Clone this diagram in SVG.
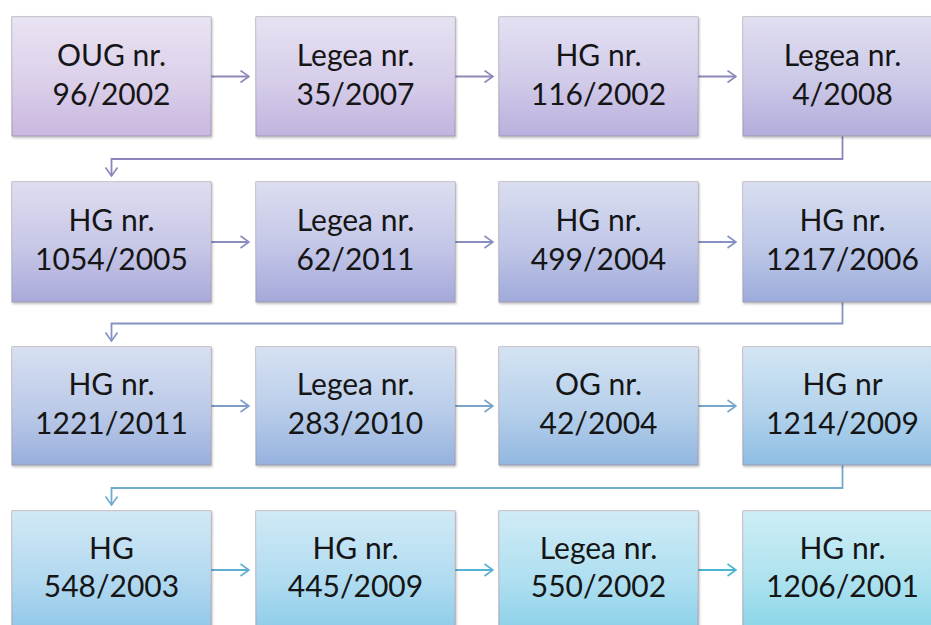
<svg xmlns="http://www.w3.org/2000/svg" width="931" height="625" viewBox="0 0 931 625">
  <defs>
    <!-- light sheen laid over each box's base colour -->
    <linearGradient id="sheen" x1="0" y1="0" x2="0" y2="1">
      <stop offset="0" stop-color="#ffffff" stop-opacity="0.62"/>
      <stop offset="0.55" stop-color="#ffffff" stop-opacity="0.35"/>
      <stop offset="1" stop-color="#ffffff" stop-opacity="0.02"/>
    </linearGradient>
    <filter id="shadow" x="-5%" y="-5%" width="110%" height="115%">
      <feDropShadow dx="1" dy="1.5" stdDeviation="1.2" flood-color="#000" flood-opacity="0.25"/>
    </filter>
    <marker id="chev" viewBox="0 0 10 14" refX="9.5" refY="7" markerWidth="10" markerHeight="14" markerUnits="userSpaceOnUse" orient="auto">
      <path d="M1,1 L9.5,7 L1,13" fill="none" stroke="context-stroke" stroke-width="1.6"/>
    </marker>
  </defs>
  <style>
    .box { stroke: #9a98aa; stroke-width: 1; filter: url(#shadow); }
    .sheen { fill: url(#sheen); }
    .lbl { font-family: Lato, "Noto Sans", "Liberation Sans", sans-serif; font-size: 30px; fill: #151515; text-anchor: middle; }
    .cn { fill: none; stroke-width: 1.8; marker-end: url(#chev); }
  </style>
  <rect width="931" height="625" fill="#ffffff"/>

  <!-- connectors -->
  <g id="connectors">
    <path class="cn" stroke="#9088b6" d="M211,76.5 H249"/>
    <path class="cn" stroke="#8e88b8" d="M455,76.5 H493"/>
    <path class="cn" stroke="#8c88ba" d="M698,76.5 H736"/>
    <path class="cn" stroke="#8a86bc" d="M842.5,136 V159 H111.5 V176"/>

    <path class="cn" stroke="#8a8cc0" d="M211,242 H249"/>
    <path class="cn" stroke="#888ec2" d="M455,242 H493"/>
    <path class="cn" stroke="#8690c4" d="M698,242 H736"/>
    <path class="cn" stroke="#8592c4" d="M842.5,302 V323.5 H111.5 V341"/>

    <path class="cn" stroke="#7e9cc8" d="M211,406 H249"/>
    <path class="cn" stroke="#7aa2ca" d="M455,406 H493"/>
    <path class="cn" stroke="#76a6cc" d="M698,406 H736"/>
    <path class="cn" stroke="#70aacd" d="M842.5,465 V488 H111.5 V505"/>

    <path class="cn" stroke="#5eafd2" d="M211,570 H249"/>
    <path class="cn" stroke="#55b2d2" d="M455,570 H493"/>
    <path class="cn" stroke="#4ab5d0" d="M698,570 H736"/>
  </g>

  <!-- row 1 -->
  <g id="n1">
    <rect class="box" x="12" y="17" width="199" height="119" fill="#c8b6df"/>
    <rect class="sheen" x="12" y="17" width="199" height="119"/>
    <text class="lbl" x="111.5" y="66">OUG nr.</text>
    <text class="lbl" x="111.5" y="105">96/2002</text>
  </g>
  <g id="n2">
    <rect class="box" x="256" y="17" width="199" height="119" fill="#c0b2de"/>
    <rect class="sheen" x="256" y="17" width="199" height="119"/>
    <text class="lbl" x="355.5" y="66">Legea nr.</text>
    <text class="lbl" x="355.5" y="105">35/2007</text>
  </g>
  <g id="n3">
    <rect class="box" x="499" y="17" width="199" height="119" fill="#b8aedd"/>
    <rect class="sheen" x="499" y="17" width="199" height="119"/>
    <text class="lbl" x="598.5" y="66">HG nr.</text>
    <text class="lbl" x="598.5" y="105">116/2002</text>
  </g>
  <g id="n4">
    <rect class="box" x="743" y="17" width="199" height="119" fill="#b0abdb"/>
    <rect class="sheen" x="743" y="17" width="199" height="119"/>
    <text class="lbl" x="842.5" y="66">Legea nr.</text>
    <text class="lbl" x="842.5" y="105">4/2008</text>
  </g>

  <!-- row 2 -->
  <g id="n5">
    <rect class="box" x="12" y="182" width="199" height="120" fill="#a8a8da"/>
    <rect class="sheen" x="12" y="182" width="199" height="120"/>
    <text class="lbl" x="111.5" y="231">HG nr.</text>
    <text class="lbl" x="111.5" y="270">1054/2005</text>
  </g>
  <g id="n6">
    <rect class="box" x="256" y="182" width="199" height="120" fill="#a3a7da"/>
    <rect class="sheen" x="256" y="182" width="199" height="120"/>
    <text class="lbl" x="355.5" y="231">Legea nr.</text>
    <text class="lbl" x="355.5" y="270">62/2011</text>
  </g>
  <g id="n7">
    <rect class="box" x="499" y="182" width="199" height="120" fill="#9ea8da"/>
    <rect class="sheen" x="499" y="182" width="199" height="120"/>
    <text class="lbl" x="598.5" y="231">HG nr.</text>
    <text class="lbl" x="598.5" y="270">499/2004</text>
  </g>
  <g id="n8">
    <rect class="box" x="743" y="182" width="199" height="120" fill="#9aaadb"/>
    <rect class="sheen" x="743" y="182" width="199" height="120"/>
    <text class="lbl" x="842.5" y="231">HG nr.</text>
    <text class="lbl" x="842.5" y="270">1217/2006</text>
  </g>

  <!-- row 3 -->
  <g id="n9">
    <rect class="box" x="12" y="347" width="199" height="118" fill="#97addc"/>
    <rect class="sheen" x="12" y="347" width="199" height="118"/>
    <text class="lbl" x="111.5" y="395">HG nr.</text>
    <text class="lbl" x="111.5" y="434">1221/2011</text>
  </g>
  <g id="n10">
    <rect class="box" x="256" y="347" width="199" height="118" fill="#93b1de"/>
    <rect class="sheen" x="256" y="347" width="199" height="118"/>
    <text class="lbl" x="355.5" y="395">Legea nr.</text>
    <text class="lbl" x="355.5" y="434">283/2010</text>
  </g>
  <g id="n11">
    <rect class="box" x="499" y="347" width="199" height="118" fill="#8fb6e0"/>
    <rect class="sheen" x="499" y="347" width="199" height="118"/>
    <text class="lbl" x="598.5" y="395">OG nr.</text>
    <text class="lbl" x="598.5" y="434">42/2004</text>
  </g>
  <g id="n12">
    <rect class="box" x="743" y="347" width="199" height="118" fill="#8bbce3"/>
    <rect class="sheen" x="743" y="347" width="199" height="118"/>
    <text class="lbl" x="842.5" y="395">HG nr</text>
    <text class="lbl" x="842.5" y="434">1214/2009</text>
  </g>

  <!-- row 4 -->
  <g id="n13">
    <rect class="box" x="12" y="511" width="199" height="130" fill="#87c3e7"/>
    <rect class="sheen" x="12" y="511" width="199" height="130"/>
    <text class="lbl" x="111.5" y="559">HG</text>
    <text class="lbl" x="111.5" y="597">548/2003</text>
  </g>
  <g id="n14">
    <rect class="box" x="256" y="511" width="199" height="130" fill="#84c8e8"/>
    <rect class="sheen" x="256" y="511" width="199" height="130"/>
    <text class="lbl" x="355.5" y="559">HG nr.</text>
    <text class="lbl" x="355.5" y="597">445/2009</text>
  </g>
  <g id="n15">
    <rect class="box" x="499" y="511" width="199" height="130" fill="#82cde8"/>
    <rect class="sheen" x="499" y="511" width="199" height="130"/>
    <text class="lbl" x="598.5" y="559">Legea nr.</text>
    <text class="lbl" x="598.5" y="597">550/2002</text>
  </g>
  <g id="n16">
    <rect class="box" x="743" y="511" width="199" height="130" fill="#7fd2e6"/>
    <rect class="sheen" x="743" y="511" width="199" height="130"/>
    <text class="lbl" x="842.5" y="559">HG nr.</text>
    <text class="lbl" x="842.5" y="597">1206/2001</text>
  </g>
</svg>
